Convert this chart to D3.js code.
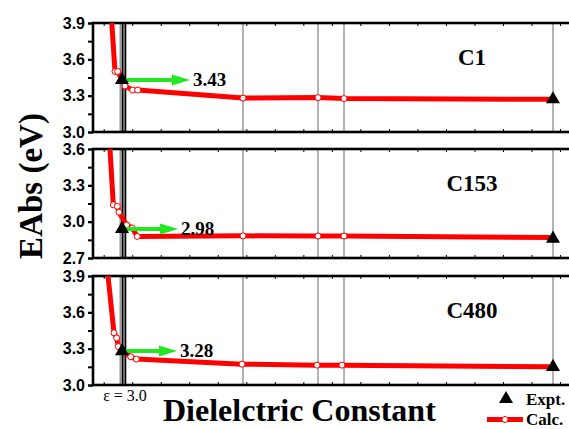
<!DOCTYPE html>
<html lang="en">
<head>
<meta charset="UTF-8">
<title>EAbs vs Dielectric Constant</title>
<script src="https://d3js.org/d3.v7.min.js"></script>
<style>
  body { margin: 0; background: #fff; overflow: hidden; }
  svg { display: block; }
  .serif { font-family: "Liberation Serif", "Times New Roman", serif; font-weight: bold; }
  .tick text { font-family: "Liberation Sans", Arial, sans-serif; font-weight: bold; font-size: 16px; fill: #000; }
</style>
</head>
<body>
<svg id="chart" width="569" height="429"></svg>
<script>
// ---- data ----
const panelNames = ["C1", "C153", "C480"];
const yDomains = [[3.0, 3.9], [2.7, 3.6], [3.0, 3.9]];
const yTicks = [[3.0, 3.3, 3.6, 3.9], [2.7, 3.0, 3.3, 3.6], [3.0, 3.3, 3.6, 3.9]];

// calculated values (dielectric constant, eV)
const calcEpsC1 = [1.88, 2.2, 2.47, 3.2, 3.97, 4.47, 15, 22.5, 25.1, 46];
const calcC1    = [3.9, 3.50, 3.50, 3.38, 3.346, 3.346, 3.28, 3.284, 3.276, 3.27];
const calcEpsC153 = [1.7, 2.03, 2.43, 2.6, 3.37, 3.93, 4.43, 15, 22.5, 25.1, 46];
const calcC153    = [3.6, 3.139, 3.127, 3.078, 2.973, 2.948, 2.878, 2.883, 2.881, 2.881, 2.869];
const calcEpsC480 = [1.5, 2.1, 2.37, 2.53, 3.77, 4.33, 14.9, 22.4, 24.9, 46];
const calcC480    = [3.9, 3.431, 3.389, 3.317, 3.233, 3.214, 3.172, 3.164, 3.164, 3.15];

// experimental values
const exptEps = [2.9, 46];
const exptC1 = [3.43, 3.27];
const exptC153 = [2.94, 2.86];
const exptC480 = [3.28, 3.15];
const exptLabels = ["3.43", "2.98", "3.28"];

// vertical guide lines
const grayGuides = [2.75, 3.1, 15, 22.5, 25.1, 46];
const blackGuides = [2.95, 3.25];

const calcEps = [calcEpsC1, calcEpsC153, calcEpsC480];
const calcVals = [calcC1, calcC153, calcC480];
const exptVals = [exptC1, exptC153, exptC480];

// ---- layout ----
const left = 93, right = 580;
const panelTop = [23, 149, 276];
const panelH = 109;
const arrowTip = [9.7, 8.5, 8.4];
const red = "#ff0000", green = "#22e822";

const svg = d3.select("#chart");
const x = d3.scaleLinear().domain([0, 48.7]).range([left, right]);
const xMinor = d3.range(1.07, 48.7, 2.852);

panelNames.forEach((name, i) => {
  const top = panelTop[i];
  const y = d3.scaleLinear().domain(yDomains[i]).range([top + panelH, top]);
  const g = svg.append("g");

  // guides
  g.selectAll(".gray").data(grayGuides).join("line")
    .attr("x1", d => x(d)).attr("x2", d => x(d))
    .attr("y1", top).attr("y2", top + panelH)
    .attr("stroke", (d) => d < 5 ? "#999" : "#666")
    .attr("stroke-width", d => d < 5 ? 2 : 1);
  g.selectAll(".black").data(blackGuides).join("line")
    .attr("x1", d => x(d)).attr("x2", d => x(d))
    .attr("y1", top).attr("y2", top + panelH)
    .attr("stroke", "#000").attr("stroke-width", 1.6);

  // y axis: minor + major
  const minor = d3.range(yDomains[i][0], yDomains[i][1] + 0.01, 0.15);
  g.append("g").attr("transform", `translate(${left},0)`)
    .call(d3.axisLeft(y).tickValues(minor).tickSize(5).tickFormat(""))
    .call(a => a.select(".domain").remove())
    .call(a => a.selectAll("line").attr("stroke-width", 2));
  g.append("g").attr("transform", `translate(${left},0)`)
    .call(d3.axisLeft(y).tickValues(yTicks[i]).tickSize(5).tickPadding(3).tickFormat(d3.format(".1f")))
    .call(a => a.select(".domain").remove())
    .call(a => a.selectAll("line").attr("stroke-width", 2));

  // top / bottom inward ticks
  g.append("g").attr("transform", `translate(0,${top})`)
    .call(d3.axisTop(x).tickValues(xMinor).tickSize(-3).tickFormat(""))
    .call(a => a.select(".domain").remove());
  g.append("g").attr("transform", `translate(0,${top + panelH})`)
    .call(d3.axisBottom(x).tickValues(xMinor).tickSize(-3).tickFormat(""))
    .call(a => a.select(".domain").remove());

  // frame
  g.append("rect")
    .attr("x", left).attr("y", top)
    .attr("width", right - left).attr("height", panelH)
    .attr("fill", "none").attr("stroke", "#000").attr("stroke-width", 2.6);

  // calc curve
  const pts = calcEps[i].map((e, k) => ({ e, v: calcVals[i][k] }));
  g.append("path").datum(pts)
    .attr("d", d3.line().x(d => x(d.e)).y(d => y(d.v)))
    .attr("fill", "none").attr("stroke", red)
    .attr("stroke-width", 5).attr("stroke-linejoin", "round");
  g.selectAll(".pt").data(pts.slice(1, -1)).join("circle")
    .attr("cx", d => x(d.e)).attr("cy", d => y(d.v)).attr("r", 3)
    .attr("fill", "#fff").attr("stroke", red).attr("stroke-width", 1);

  // green arrow to experimental value
  const ay = y(exptVals[i][0]);
  const x0 = x(exptEps[0]) + 3, tip = x(arrowTip[i]);
  g.append("line")
    .attr("x1", x0).attr("x2", tip - 16).attr("y1", ay).attr("y2", ay)
    .attr("stroke", green).attr("stroke-width", 4);
  g.append("path")
    .attr("d", `M${tip},${ay} L${tip - 18},${ay - 5.5} L${tip - 18},${ay + 5.5} Z`)
    .attr("fill", green);
  g.append("text").attr("class", "serif")
    .attr("x", tip + 3).attr("y", ay + 6)
    .attr("font-size", 19).text(exptLabels[i]);

  // expt triangles
  g.selectAll(".ex").data(exptEps).join("path")
    .attr("transform", (d, k) => `translate(${x(d)},${y(exptVals[i][k])})`)
    .attr("d", d3.symbol(d3.symbolTriangle, 85))
    .attr("fill", "#000");

  // panel name
  g.append("text").attr("class", "serif")
    .attr("x", 472).attr("y", top + 42)
    .attr("text-anchor", "middle").attr("font-size", 23)
    .text(name);
});

// epsilon marker
svg.append("text")
  .attr("x", x(3.0) + 2).attr("y", 401)
  .attr("text-anchor", "middle")
  .attr("font-family", "'Liberation Serif', 'Times New Roman', serif")
  .attr("font-size", 16).text("ε = 3.0");

// axis titles
svg.append("text").attr("class", "serif")
  .attr("transform", "translate(42,186) rotate(-90)")
  .attr("text-anchor", "middle").attr("font-size", 33)
  .text("EAbs (eV)");
svg.append("text").attr("class", "serif")
  .attr("x", 163).attr("y", 421)
  .attr("font-size", 32)
  .text("Dielelctric Constant");

// legend
const leg = svg.append("g");
leg.append("path")
  .attr("transform", "translate(506,399)")
  .attr("d", d3.symbol(d3.symbolTriangle, 85))
  .attr("fill", "#000");
leg.append("text").attr("class", "serif")
  .attr("x", 526).attr("y", 405).attr("font-size", 17).text("Expt.");
leg.append("line")
  .attr("x1", 487).attr("x2", 523).attr("y1", 419.5).attr("y2", 419.5)
  .attr("stroke", red).attr("stroke-width", 5);
leg.append("circle")
  .attr("cx", 505).attr("cy", 419.5).attr("r", 3)
  .attr("fill", "#fff").attr("stroke", red).attr("stroke-width", 1);
leg.append("text").attr("class", "serif")
  .attr("x", 526).attr("y", 425).attr("font-size", 17).text("Calc.");
</script>
</body>
</html>
